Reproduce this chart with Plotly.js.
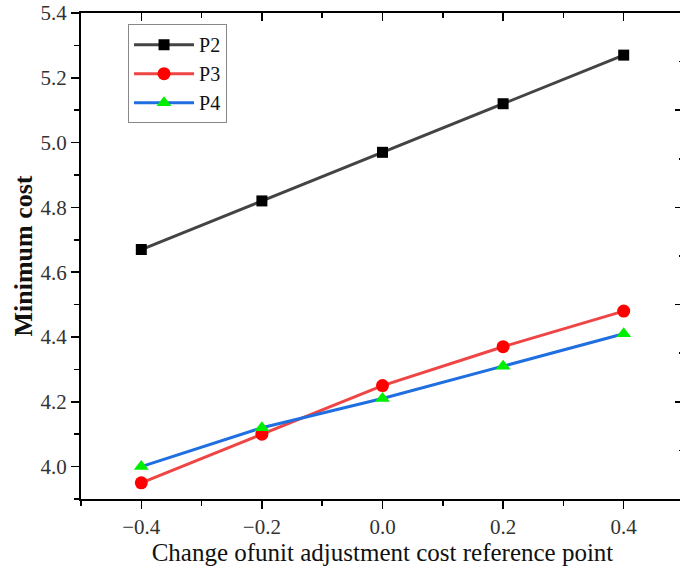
<!DOCTYPE html>
<html><head><meta charset="utf-8">
<script src="https://cdn.plot.ly/plotly-3.0.1.min.js"></script>
<style>html,body{margin:0;padding:0;overflow:hidden;background:#fff;}#c{width:690px;height:576px;}</style>
</head><body><div id="c"></div>
<script>
const xVals = [-0.4, -0.2, 0.0, 0.2, 0.4];
const p2 = [4.67, 4.82, 4.97, 5.12, 5.27];
const p3 = [3.95, 4.10, 4.25, 4.37, 4.48];
const p4 = [4.00, 4.12, 4.21, 4.31, 4.41];
const seriesNames = ['P2', 'P3', 'P4'];

const serif = 'Liberation Serif';
const traces = [
  {x: xVals, y: p2, name: seriesNames[0], mode: 'lines+markers',
   line: {color: '#444444', width: 3}, marker: {symbol: 'square', size: 11, color: '#000000'}},
  {x: xVals, y: p3, name: seriesNames[1], mode: 'lines+markers',
   line: {color: '#ef4545', width: 3}, marker: {symbol: 'circle', size: 13, color: '#ff0000'}},
  {x: xVals, y: p4, name: seriesNames[2], mode: 'lines+markers',
   line: {color: '#1f6fe0', width: 3}, marker: {symbol: 'triangle-up', size: 13, color: '#00ee00'}},
  {x: [0], y: [0], xaxis: 'x2', yaxis: 'y2', mode: 'markers', marker: {opacity: 0}, showlegend: false, hoverinfo: 'skip'}
];

const layout = {
  width: 690, height: 576,
  margin: {l: 81, r: 6, t: 13, b: 77},
  paper_bgcolor: '#ffffff', plot_bgcolor: '#ffffff',
  font: {family: serif, size: 21, color: '#333'},
  showlegend: true,
  legend: {x: 0.078, y: 0.977, xanchor: 'left', yanchor: 'top', bgcolor: '#ffffff',
    bordercolor: '#888888', borderwidth: 1, font: {family: serif, size: 20, color: '#111'},
    itemwidth: 60, tracegroupgap: 0},
  xaxis: {range: [-0.5, 0.5], tick0: 0, dtick: 0.2, tickformat: '.1f',
    ticks: 'outside', ticklen: 8, tickwidth: 1.5, tickcolor: '#000',
    minor: {dtick: 0.1, tick0: 0, ticks: 'outside', ticklen: 5, tickwidth: 1.5, tickcolor: '#000'},
    showline: true, linecolor: '#000', linewidth: 2, showgrid: false, zeroline: false,
    title: {text: 'Change ofunit adjustment cost reference point', font: {family: serif, size: 25, color: '#111'}, standoff: 4}},
  yaxis: {range: [3.9, 5.4], tick0: 4.0, dtick: 0.2, tickformat: '.1f',
    ticks: 'outside', ticklen: 8, tickwidth: 1.5, tickcolor: '#000',
    minor: {dtick: 0.1, tick0: 4.0, ticks: 'outside', ticklen: 5, tickwidth: 1.5, tickcolor: '#000'},
    showline: true, linecolor: '#000', linewidth: 2, showgrid: false, zeroline: false,
    title: {text: '<b>Minimum cost</b>', font: {family: serif, size: 26, color: '#111'}, standoff: 0}},
  xaxis2: {overlaying: 'x', side: 'top', anchor: 'y', range: [-0.5, 0.5], tick0: 0, dtick: 0.2,
    ticks: 'inside', ticklen: 8, tickwidth: 1.5, tickcolor: '#000',
    minor: {dtick: 0.1, tick0: 0, ticks: 'inside', ticklen: 5, tickwidth: 1.5, tickcolor: '#000'},
    showticklabels: false, showline: true, linecolor: '#000', linewidth: 2, showgrid: false, zeroline: false},
  yaxis2: {overlaying: 'y', side: 'right', anchor: 'x', range: [0, 5], tick0: 0, dtick: 1,
    ticks: 'inside', ticklen: 9, tickwidth: 1.5, tickcolor: '#000',
    minor: {dtick: 0.5, tick0: 0, ticks: 'inside', ticklen: 5, tickwidth: 1.5, tickcolor: '#000'},
    showticklabels: false, showline: true, linecolor: '#000', linewidth: 2, showgrid: false, zeroline: false}
};

Plotly.newPlot('c', traces, layout, {displayModeBar: false, staticPlot: true});
</script></body></html>
